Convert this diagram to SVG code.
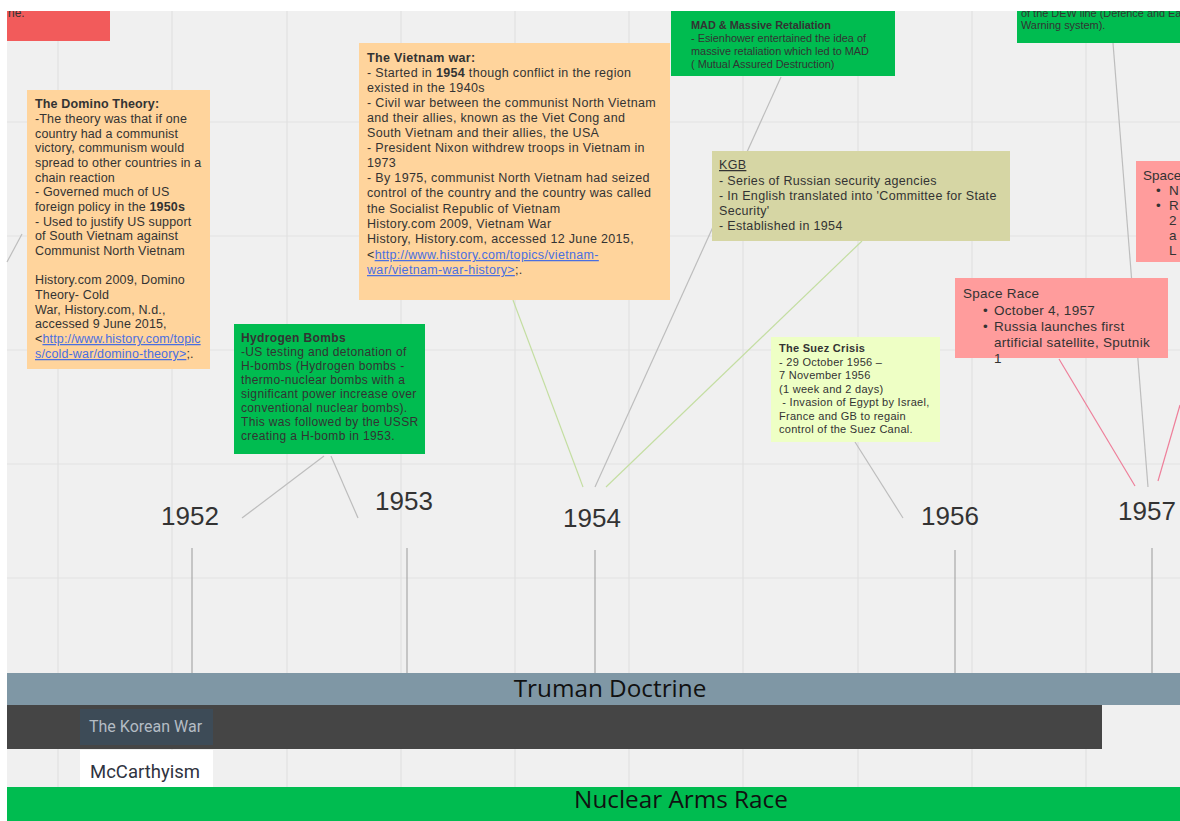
<svg xmlns="http://www.w3.org/2000/svg" width="1180" height="821" viewBox="0 0 1180 821">
<style>
.grid{stroke:#e2e2e2;stroke-width:1.2;fill:none}
.tick{stroke:#a8a8a8;stroke-width:1.2}
.conn{fill:none;stroke-width:1.2}
.g{stroke:#bdbdbd}.gr{stroke:#c4dea2}.pk{stroke:#ee7f9a}
.yr{font-family:"Liberation Sans",Arial,sans-serif;font-size:26px;fill:#333}
.t{font-family:"Liberation Sans",Arial,sans-serif;fill:#333}
.b{font-weight:bold}
.lnk{fill:#4a6fe0;text-decoration:underline}
.bar{font-family:"Open Sans","Noto Sans",sans-serif;font-size:24.3px;fill:#111}
</style>
<rect x="0" y="0" width="1180" height="821" fill="#ffffff"/>
<rect x="7" y="11" width="1173" height="810" fill="#f0f0f0"/>
<g id="grid" class="grid">
<path d="M58 11V821M172 11V821M287 11V821M401 11V821M515 11V821M629 11V821M743 11V821M858 11V821M972 11V821M1086 11V821"/>
<path d="M7 122H1180M7 236H1180M7 350H1180M7 464H1180M7 578H1180"/>
</g>
<g id="ticks" class="tick">
<line x1="192" y1="548" x2="192" y2="673"/>
<line x1="407" y1="548" x2="407" y2="673"/>
<line x1="595" y1="550" x2="595" y2="673"/>
<line x1="955" y1="550" x2="955" y2="673"/>
<line x1="1152" y1="548" x2="1152" y2="673"/>
</g>
<g id="connectors" class="conn">
<line class="g" x1="7" y1="262" x2="22" y2="234"/>
<line class="g" x1="242" y1="518" x2="324" y2="456"/>
<line class="g" x1="358" y1="518" x2="331" y2="456"/>
<line class="gr" x1="513" y1="300" x2="583" y2="487"/>
<line class="g" x1="781" y1="77" x2="595" y2="487"/>
<line class="gr" x1="862" y1="241" x2="606" y2="487"/>
<line class="g" x1="855" y1="442" x2="903" y2="518"/>
<line class="pk" x1="1059" y1="359" x2="1135" y2="486"/>
<line class="g" x1="1113" y1="43" x2="1148" y2="487"/>
<line class="pk" x1="1180" y1="405" x2="1158" y2="481"/>
</g>
<g id="years">
<text class="yr" x="161" y="525">1952</text>
<text class="yr" x="375" y="510">1953</text>
<text class="yr" x="563" y="527">1954</text>
<text class="yr" x="921" y="525">1956</text>
<text class="yr" x="1118" y="520">1957</text>
</g>
<g id="red-top">
<rect x="7" y="11" width="103" height="30" fill="#f25b5b"/>
<text class="t" x="8" y="17" font-size="12">ne.</text>
</g>
<rect x="0" y="0" width="1180" height="11" fill="#ffffff"/>
<g id="dew">
<rect x="1017" y="11" width="163" height="32" fill="#00bc50"/>
<text class="t" x="1021" y="17" font-size="10.9" fill="#1d3a22">of the DEW line (Defence and Early</text>
<text class="t" x="1021" y="29" font-size="10.9" fill="#1d3a22">Warning system).</text>
</g>
<rect x="1000" y="0" width="180" height="11" fill="#ffffff"/>
<g id="mad">
<rect x="671" y="11" width="224" height="65" fill="#00bc50"/>
<text class="t" font-size="10.9" fill="#1d3a22"><tspan x="691" y="29" class="b">MAD &amp; Massive Retaliation</tspan><tspan x="691" y="42">- Esienhower entertained the idea of</tspan><tspan x="691" y="55">massive retaliation which led to MAD</tspan><tspan x="691" y="68">( Mutual Assured Destruction)</tspan></text>
</g>
<g id="vietnam">
<rect x="359" y="43" width="311" height="257" fill="#ffd49c"/>
<text class="t" font-size="12.5" letter-spacing="0.33" fill="#222"><tspan x="367" y="62" class="b">The Vietnam war:</tspan><tspan x="367" y="77">- Started in <tspan class="b">1954</tspan> though conflict in the region</tspan><tspan x="367" y="92">existed in the 1940s</tspan><tspan x="367" y="107">- Civil war between the communist North Vietnam</tspan><tspan x="367" y="122">and their allies, known as the Viet Cong and</tspan><tspan x="367" y="137">South Vietnam and their allies, the USA</tspan><tspan x="367" y="152">- President Nixon withdrew troops in Vietnam in</tspan><tspan x="367" y="167">1973</tspan><tspan x="367" y="182">- By 1975, communist North Vietnam had seized</tspan><tspan x="367" y="197">control of the country and the country was called</tspan><tspan x="367" y="213">the Socialist Republic of Vietnam</tspan><tspan x="367" y="228">History.com 2009, Vietnam War</tspan><tspan x="367" y="243">History, History.com, accessed 12 June 2015,</tspan><tspan x="367" y="259">&lt;<tspan class="lnk">http://www.history.com/topics/vietnam-</tspan></tspan><tspan x="367" y="274"><tspan class="lnk">war/vietnam-war-history&gt;</tspan>;.</tspan></text>
</g>
<g id="domino">
<rect x="27" y="90" width="183" height="279" fill="#ffd49c"/>
<text class="t" font-size="12.5" letter-spacing="0.15" fill="#3a3a3a"><tspan x="35" y="108" class="b">The Domino Theory:</tspan><tspan x="35" y="123">-The theory was that if one</tspan><tspan x="35" y="138">country had a communist</tspan><tspan x="35" y="152">victory, communism would</tspan><tspan x="35" y="167">spread to other countries in a</tspan><tspan x="35" y="182">chain reaction</tspan><tspan x="35" y="196">- Governed much of US</tspan><tspan x="35" y="211">foreign  policy in the <tspan class="b">1950s</tspan></tspan><tspan x="35" y="226">- Used to justify US support</tspan><tspan x="35" y="240">of South Vietnam against</tspan><tspan x="35" y="255">Communist North Vietnam</tspan><tspan x="35" y="284">History.com 2009, Domino</tspan><tspan x="35" y="299">Theory- Cold</tspan><tspan x="35" y="314">War, History.com, N.d.,</tspan><tspan x="35" y="328">accessed 9 June 2015,</tspan><tspan x="35" y="343">&lt;<tspan class="lnk">http://www.history.com/topic</tspan></tspan><tspan x="35" y="358"><tspan class="lnk">s/cold-war/domino-theory&gt;</tspan>;.</tspan></text>
</g>
<g id="kgb">
<rect x="712" y="151" width="298" height="90" fill="#d6d6a4"/>
<text class="t" font-size="12.5" letter-spacing="0.33" fill="#222"><tspan x="719" y="169" text-decoration="underline">KGB</tspan><tspan x="719" y="185">- Series of Russian security agencies</tspan><tspan x="719" y="200">- In English translated into 'Committee for State</tspan><tspan x="719" y="215">Security'</tspan><tspan x="719" y="230">- Established in 1954</tspan></text>
</g>
<g id="hydrogen">
<rect x="234" y="324" width="191" height="130" fill="#00bc50"/>
<text class="t" font-size="12" letter-spacing="0.35" fill="#1d3a22"><tspan x="241" y="342" class="b">Hydrogen Bombs</tspan><tspan x="241" y="356">-US testing and detonation of</tspan><tspan x="241" y="370">H-bombs (Hydrogen bombs -</tspan><tspan x="241" y="384">thermo-nuclear bombs with a</tspan><tspan x="241" y="398">significant power increase over</tspan><tspan x="241" y="412">conventional nuclear bombs).</tspan><tspan x="241" y="426">This was followed by the USSR</tspan><tspan x="241" y="440">creating a H-bomb in 1953.</tspan></text>
</g>
<g id="suez">
<rect x="771" y="337" width="169" height="105" fill="#eeffc5"/>
<text class="t" font-size="11" letter-spacing="0.28" fill="#444"><tspan x="779" y="352" class="b">The Suez Crisis</tspan><tspan x="779" y="366">- 29 October 1956 –</tspan><tspan x="779" y="379">7 November 1956</tspan><tspan x="779" y="393">(1 week and 2 days)</tspan><tspan x="779" y="406"> - Invasion of Egypt by Israel,</tspan><tspan x="779" y="420">France and GB to regain</tspan><tspan x="779" y="433">control of the Suez Canal.</tspan></text>
</g>
<g id="space-race">
<rect x="955" y="278" width="213" height="80" fill="#ff9c9c"/>
<text class="t" font-size="13.5" letter-spacing="0.28" fill="#2a2a2a"><tspan x="963" y="298">Space Race</tspan><tspan x="983" y="315">•</tspan><tspan x="994" y="315">October 4, 1957</tspan><tspan x="983" y="331">•</tspan><tspan x="994" y="331">Russia launches first</tspan><tspan x="994" y="347">artificial satellite, Sputnik</tspan><tspan x="994" y="363">1</tspan></text>
</g>
<g id="space-right">
<rect x="1136" y="161" width="44" height="101" fill="#ff9c9c"/>
<text class="t" font-size="13.5" fill="#2a2a2a"><tspan x="1143" y="180">Space</tspan><tspan x="1156" y="195">•</tspan><tspan x="1169" y="195">N</tspan><tspan x="1156" y="210">•</tspan><tspan x="1169" y="210">R</tspan><tspan x="1169" y="225">2</tspan><tspan x="1169" y="240">a</tspan><tspan x="1169" y="255">L</tspan></text>
</g>
<g id="truman">
<rect x="7" y="673" width="1173" height="32" fill="#7f97a5"/>
<text class="bar" x="610" y="697" text-anchor="middle">Truman Doctrine</text>
</g>
<g id="cold-war-bar">
<rect x="7" y="705" width="1095" height="44" fill="#454545"/>
</g>
<g id="korean-war">
<rect x="80" y="709" width="133" height="36" fill="#3d4b57"/>
<text x="89" y="732" font-family="Roboto,'Liberation Sans',sans-serif" font-size="16" fill="#b4bcc4">The Korean War</text>
</g>
<g id="mccarthyism">
<rect x="80" y="750" width="133" height="37" fill="#ffffff"/>
<text x="90" y="778" font-family="Roboto,'Liberation Sans',sans-serif" font-size="18.5" fill="#2f3340">McCarthyism</text>
</g>
<g id="nuclear">
<rect x="7" y="787" width="1173" height="34" fill="#00bc50"/>
<text class="bar" x="681" y="808" text-anchor="middle">Nuclear Arms Race</text>
</g>
</svg>
